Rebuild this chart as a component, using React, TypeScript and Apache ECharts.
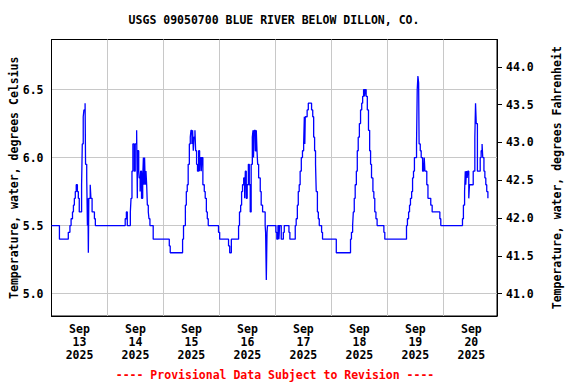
import React, { useEffect, useRef } from "react";
import * as echarts from "echarts";

// Hours since Sep 13 2025 00:00 at which the reading changes, and the reading (deg C) from then on.
const HOURS = [
  0, 3.4, 7.2, 7.9, 8.4, 9.0, 9.4, 9.8, 10.2, 10.6, 11.1, 11.5, 11.9, 12.9, 13.2, 13.6, 13.9, 14.4, 14.6, 15.1,
  15.4, 15.6, 15.8, 16.0, 16.6, 16.9, 17.4, 18.4, 18.8,
  31.6, 32.1, 32.5, 33.8, 34.1, 34.5, 34.9, 35.5, 35.9, 36.5, 36.8, 36.9, 37.4, 37.6, 38.0, 38.2, 38.6, 39.1,
  39.4, 39.6, 39.9, 40.2, 40.5, 40.8, 41.1, 41.5, 41.8, 42.2, 43.6,
  50.5, 50.9, 56.2, 56.6, 57.4, 57.8, 58.2, 58.6, 59.1, 59.5, 59.8, 60.2, 60.5, 60.8, 61.1, 61.5, 61.8, 62.2,
  62.6, 63.1, 63.5, 63.8, 64.2, 64.5, 64.9, 65.5, 65.9, 66.4, 66.8, 67.2, 71.6, 72.1, 75.9, 76.4, 77.1,
  80.2, 80.6, 81.1, 81.5, 81.9, 82.4, 82.8, 83.1, 83.5, 83.9, 84.4, 84.8, 85.2, 85.6, 86.1, 86.4, 86.6, 86.9,
  87.4, 87.8, 88.1, 88.4, 88.8, 89.5, 89.9, 90.5, 91.6, 91.8, 92.1, 92.4, 92.6,
  96.2, 96.6, 97.1, 97.5, 97.8, 98.5, 99.4, 99.8, 101.8, 102.2,
  104.5, 104.9, 105.4, 105.8, 106.2, 106.6, 107.1, 107.6, 108.1, 108.4, 108.6, 108.8, 109.6, 110.1, 111.5,
  112.0, 112.4, 112.8, 113.2, 113.5, 114.0, 114.4, 114.8, 115.8, 116.2, 122.1,
  128.2, 128.6, 129.1, 129.4, 129.8, 130.2, 130.7, 131.1, 131.5, 132.0, 132.5, 133.0, 133.4, 133.8, 134.2,
  134.5, 134.9, 135.4, 135.9, 136.4, 136.8, 137.2, 137.8, 138.2, 138.6, 139.1, 139.6, 142.5, 142.9,
  152.2, 152.6, 153.1, 153.5, 153.9, 154.4, 154.8, 155.2, 155.6, 156.5, 156.8, 157.1, 157.4, 157.6, 158.1,
  158.5, 159.1, 159.5, 159.8, 160.1, 160.9, 161.4, 162.6, 163.2, 166.5, 166.9,
  176.2, 176.6, 177.1, 177.4, 177.6, 177.9, 178.2, 178.5, 178.9, 179.2, 180.8, 181.5, 181.8, 182.1, 182.6,
  183.8, 184.2, 184.6, 184.9, 185.4, 185.8, 186.2, 186.6, 187.1, 187.2,
];

const TEMPS_C = [
  5.5, 5.4, 5.45, 5.5, 5.55, 5.6, 5.65, 5.7, 5.75, 5.8, 5.75, 5.7, 5.6, 5.8, 6.1, 6.3, 6.35, 6.4, 5.95, 5.85,
  5.5, 5.7, 5.3, 5.7, 5.8, 5.7, 5.6, 5.55, 5.5,
  5.55, 5.6, 5.5, 5.6, 5.7, 5.9, 6.1, 5.9, 6.1, 6.2, 5.7, 6.05, 5.9, 5.85, 5.75, 5.9, 5.7, 5.85,
  6.0, 5.8, 6.0, 5.8, 5.9, 5.8, 5.65, 5.6, 5.55, 5.5, 5.4,
  5.35, 5.3, 5.4, 5.5, 5.65, 5.75, 5.8, 5.95, 6.1, 6.15, 6.2, 6.1, 6.2, 6.05, 6.15, 6.2, 6.05, 5.95,
  5.9, 6.05, 5.9, 6.0, 5.9, 6.0, 5.8, 5.75, 5.7, 5.6, 5.55, 5.5, 5.45, 5.4, 5.35, 5.3, 5.4,
  5.5, 5.6, 5.65, 5.75, 5.8, 5.85, 5.7, 5.9, 5.7, 5.8, 5.95, 5.8, 5.6, 5.95, 6.15, 6.2, 6.0, 6.2,
  6.05, 6.2, 6.05, 5.95, 5.85, 5.75, 5.65, 5.6, 5.5, 5.45, 5.1, 5.45, 5.5,
  5.45, 5.4, 5.5, 5.4, 5.5, 5.4, 5.45, 5.5, 5.45, 5.4,
  5.5, 5.55, 5.65, 5.75, 5.8, 5.9, 6.0, 6.05, 6.1, 6.3, 6.1, 6.3, 6.35, 6.4, 6.35,
  6.3, 6.15, 6.05, 5.95, 5.75, 5.6, 5.55, 5.5, 5.45, 5.4, 5.3,
  5.4, 5.45, 5.5, 5.6, 5.7, 5.8, 5.9, 6.05, 6.15, 6.25, 6.35, 6.4, 6.45, 6.5, 6.45,
  6.5, 6.45, 6.35, 6.2, 6.05, 5.95, 5.85, 5.75, 5.7, 5.6, 5.55, 5.5, 5.45, 5.4,
  5.5, 5.55, 5.6, 5.65, 5.7, 5.75, 5.85, 5.9, 6.0, 6.1, 6.5, 6.6, 6.55, 6.1, 6.05,
  6.0, 5.9, 5.9, 6.0, 5.9, 5.8, 5.7, 5.65, 5.6, 5.55, 5.5,
  5.55, 5.65, 5.75, 5.9, 5.8, 5.9, 5.85, 5.9, 5.7, 5.8, 5.9, 6.15, 6.4, 6.25, 5.9,
  6.0, 6.05, 6.1, 6.0, 5.9, 5.85, 5.8, 5.75, 5.7, 5.7,
];

const LEFT_TICKS = [5.0, 5.5, 6.0, 6.5];
const RIGHT_TICKS = [41.0, 41.5, 42.0, 42.5, 43.0, 43.5, 44.0];
const DATE_LABEL_HOURS = [12, 36, 60, 84, 108, 132, 156, 180];
const DATE_LABEL_DAYS = ["13", "14", "15", "16", "17", "18", "19", "20"];

const TITLE = "USGS 09050700 BLUE RIVER BELOW DILLON, CO.";
const FOOTER = "---- Provisional Data Subject to Revision ----";

const C_MIN = 4.835;
const C_MAX = 6.868;
const X_MAX = 191;

const FONT = "DejaVu Sans Mono";
const FS = 11.5;

export default function App() {
  const ref = useRef<HTMLDivElement>(null);

  useEffect(() => {
    if (!ref.current) return;
    const chart = echarts.init(ref.current, undefined, { renderer: "svg" });
    const data = HOURS.map((h, i) => [h, TEMPS_C[i]]);
    const txt = { fontFamily: FONT, fontWeight: "bold" as const, fontSize: FS, color: "#000" };
    const font = `bold ${FS}px "${FONT}"`;

    chart.setOption({
      animation: false,
      backgroundColor: "#fff",
      graphic: [
        {
          type: "text",
          x: 274,
          y: 20,
          style: { text: TITLE, fill: "#000", font, align: "center", verticalAlign: "middle" },
        },
        {
          type: "text",
          x: 275,
          y: 375,
          style: { text: FOOTER, fill: "#ff0000", font, align: "center", verticalAlign: "middle" },
        },
      ],
      grid: {
        left: 51.5,
        right: 79,
        top: 39.5,
        bottom: 68,
        outerBoundsMode: "none",
        containLabel: false,
        show: true,
        borderColor: "#000",
        borderWidth: 1,
        backgroundColor: "transparent",
      },
      xAxis: {
        type: "value",
        min: 0,
        max: X_MAX,
        interval: 24,
        axisLine: { show: true, lineStyle: { color: "#000", width: 1 } },
        axisTick: { show: false },
        splitLine: { show: true, lineStyle: { color: "#c8c8c8", width: 1 } },
        axisLabel: {
          customValues: DATE_LABEL_HOURS,
          ...txt,
          lineHeight: 13,
          margin: 6,
          formatter: (v: number) => {
            const idx = DATE_LABEL_HOURS.indexOf(v);
            return `Sep\n${DATE_LABEL_DAYS[idx] ?? ""}\n2025`;
          },
        },
      },
      yAxis: [
        {
          type: "value",
          min: C_MIN,
          max: C_MAX,
          position: "left",
          name: "Temperature, water, degrees Celsius",
          nameLocation: "middle",
          nameGap: 32,
          nameRotate: 90,
          nameMoveOverlap: false,
          nameTextStyle: { ...txt },
          axisLine: { show: true, lineStyle: { color: "#000", width: 1 } },
          axisTick: { show: false, customValues: LEFT_TICKS },
          splitLine: { show: true, lineStyle: { color: "#c8c8c8", width: 1 } },
          axisLabel: {
            customValues: LEFT_TICKS,
            ...txt,
            margin: 8,
            formatter: (v: number) => v.toFixed(1),
          },
        },
        {
          type: "value",
          min: C_MIN * 1.8 + 32,
          max: C_MAX * 1.8 + 32,
          position: "right",
          name: "Temperature, water, degrees Fahrenheit",
          nameLocation: "middle",
          nameGap: 54,
          nameRotate: 90,
          nameMoveOverlap: false,
          nameTextStyle: { ...txt },
          axisLine: { show: true, lineStyle: { color: "#000", width: 1 } },
          axisTick: { show: true, inside: false, length: 5, customValues: RIGHT_TICKS, lineStyle: { color: "#000" } },
          splitLine: { show: false },
          axisLabel: {
            customValues: RIGHT_TICKS,
            ...txt,
            margin: 9,
            formatter: (v: number) => v.toFixed(1),
          },
        },
      ],
      series: [
        {
          type: "line",
          step: "end",
          data,
          yAxisIndex: 0,
          showSymbol: false,
          symbol: "none",
          lineStyle: { color: "#0000ff", width: 1.3 },
          silent: true,
        },
      ],
    });

    return () => chart.dispose();
  }, []);

  return (
    <div
      ref={ref}
      style={{ position: "fixed", left: 0, top: 0, width: 576, height: 384, background: "#fff" }}
    />
  );
}
